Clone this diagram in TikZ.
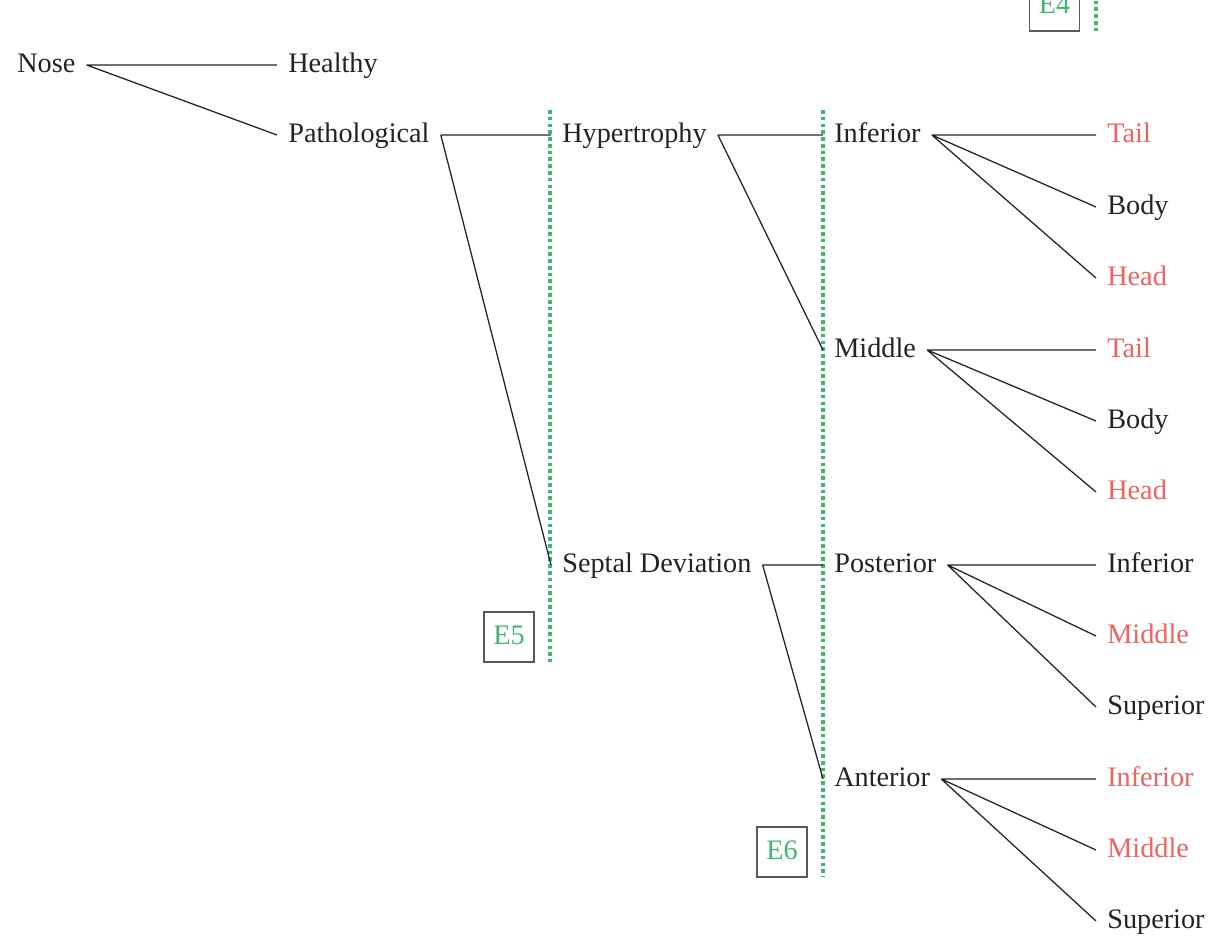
\documentclass[tikz,border=0pt]{standalone}
\usepackage{fontspec}
\setmainfont{Liberation Serif}
\definecolor{egreen}{RGB}{62,184,110}
\definecolor{ered}{RGB}{238,98,98}
\definecolor{ink}{RGB}{35,35,35}
\begin{document}
\begin{tikzpicture}
	[x=0.354pt,y=-0.354pt,
	every node/.style={inner sep=4pt,outer sep=0,text height=7.5pt,text depth=1.9pt,text=ink},
	part/.style={anchor=west},
	hot/.style={anchor=west,text=ered},
	exam/.style={draw=black!65,line width=.5pt,text=egreen,minimum size=17.7pt,inner sep=0pt},
	cut/.style={color=egreen,line width=1.5pt,dash pattern=on 1.3pt off 1.1pt}]
	\def\xa{6}\def\xb{277}\def\xc{551}\def\xd{823}\def\xe{1096}
	\useasboundingbox (0,0) rectangle (1211,939);
	\clip (0,0) rectangle (1211,939);
	\node[part] (nose) at (\xa, 65)  {Nose} ;
	\node[part] (hlth) at (\xb, 65)  {Healthy} ;
	\node[part] (path) at (\xb, 135) {Pathological} ;
	\node[part] (hyp)  at (\xc, 135) {Hypertrophy} ;
	\node[part] (sept) at (\xc, 565) {Septal Deviation} ;
	\node[part] (inf)  at (\xd, 135) {Inferior} ;
	\node[part] (mid)  at (\xd, 350) {Middle} ;
	\node[part] (post) at (\xd, 565) {Posterior} ;
	\node[part] (ant)  at (\xd, 779) {Anterior} ;
	% turbinate parts
	\node[hot]  (inft) at (\xe, 135) {Tail} ;
	\node[part] (infb) at (\xe, 207) {Body} ;
	\node[hot]  (infh) at (\xe, 278) {Head} ;
	\node[hot]  (midt) at (\xe, 350) {Tail} ;
	\node[part] (midb) at (\xe, 421) {Body} ;
	\node[hot]  (midh) at (\xe, 492) {Head} ;
	% septum parts
	\node[part] (posi) at (\xe, 565) {Inferior} ;
	\node[hot]  (posm) at (\xe, 636) {Middle} ;
	\node[part] (poss) at (\xe, 707) {Superior} ;
	\node[hot]  (anti) at (\xe, 779) {Inferior} ;
	\node[hot]  (antm) at (\xe, 850) {Middle} ;
	\node[part] (ants) at (\xe, 921) {Superior} ;
	% expert boxes
	\node[exam] (efour) at (1054.5, 6) {E4} ;
	\node[exam] (efive) at (509, 637)  {E5} ;
	\node[exam] (esix)  at (782, 852)  {E6} ;
	\draw[cut] (1096,-40) -- (1096,32)
	(550,110) -- (550,662)
	(823,110) -- (823,877) ;
	\draw[line width=.45pt,color=ink]
	(nose.east) -- (hlth.west) (nose.east) -- (path.west)
	(path.east) -- (hyp.west) (path.east) -- (sept.west)
	(hyp.east) -- (inf.west) (hyp.east) -- (mid.west)
	(sept.east) -- (post.west) (sept.east) -- (ant.west)
	(inf.east) -- (inft.west) (inf.east) -- (infb.west) (inf.east) -- (infh.west)
	(mid.east) -- (midt.west) (mid.east) -- (midb.west) (mid.east) -- (midh.west)
	(post.east) -- (posi.west) (post.east) -- (posm.west) (post.east) -- (poss.west)
	(ant.east) -- (anti.west) (ant.east) -- (antm.west) (ant.east) -- (ants.west) ;
\end{tikzpicture}
\end{document}
